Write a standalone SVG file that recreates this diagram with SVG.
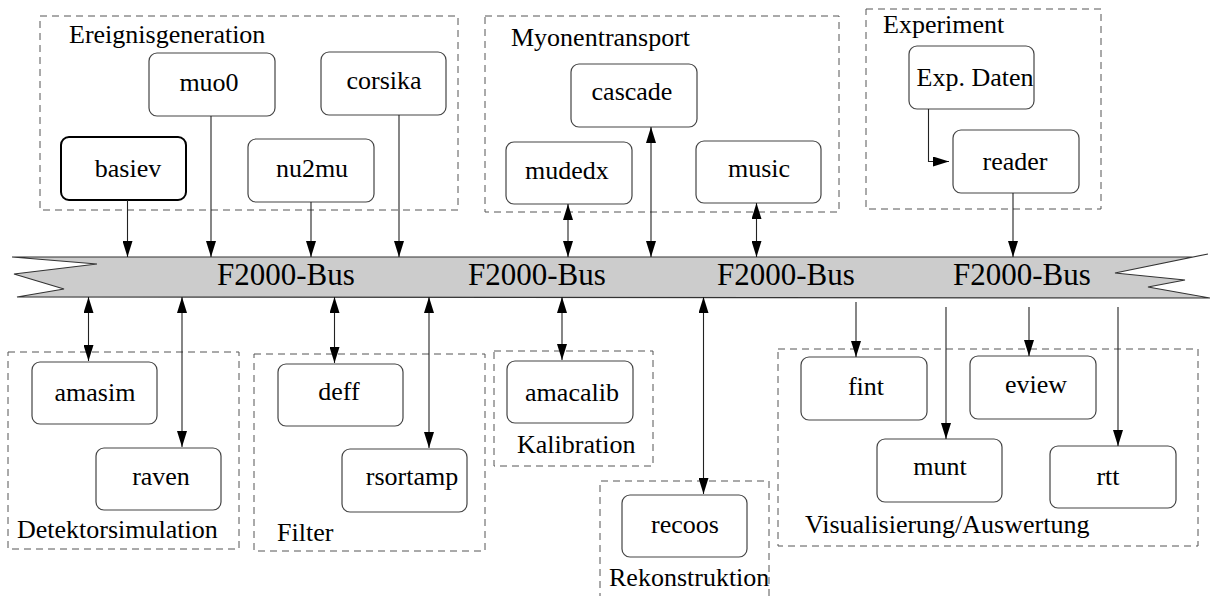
<svg xmlns="http://www.w3.org/2000/svg" width="1210" height="596" viewBox="0 0 1210 596">
  <style>
    text { font-family: "Liberation Serif", "Times New Roman", serif; font-size: 26px; fill: #000; }
    .lbl { text-anchor: start; }
    .nt { text-anchor: middle; }
    .bus-t { font-size: 31px; text-anchor: start; }
    .grp { fill: none; stroke: #555; stroke-width: 1; stroke-dasharray: 7 5; }
    .box { fill: #fff; stroke: #444; stroke-width: 1.2; }
    .box-b { fill: #fff; stroke: #000; stroke-width: 2; }
    .c { fill: none; stroke: #222; stroke-width: 1.1; }
    .one { marker-end: url(#ah); }
    .two { marker-start: url(#ah); marker-end: url(#ah); }
  </style>
  <defs>
    <marker id="ah" viewBox="0 0 16 10" refX="16" refY="5" markerWidth="16" markerHeight="10" markerUnits="userSpaceOnUse" orient="auto-start-reverse">
      <path d="M0,0 L16,5 L0,10 z" fill="#000"/>
    </marker>
  </defs>

  <rect width="1210" height="596" fill="#fff"/>

  <!-- group frames -->
  <g id="groups">
    <g id="grp-ereignis"><rect class="grp" x="40" y="16" width="418" height="194"/><text class="lbl" x="69" y="43">Ereignisgeneration</text></g>
    <g id="grp-myonen"><rect class="grp" x="485" y="16" width="354" height="196"/><text class="lbl" x="511" y="46">Myonentransport</text></g>
    <g id="grp-experiment"><rect class="grp" x="866" y="9" width="235" height="200"/><text class="lbl" x="883" y="33">Experiment</text></g>
    <g id="grp-detektor"><rect class="grp" x="8" y="352" width="231" height="197"/><text class="lbl" x="17" y="538">Detektorsimulation</text></g>
    <g id="grp-filter"><rect class="grp" x="254" y="354" width="231" height="197"/><text class="lbl" x="277" y="541">Filter</text></g>
    <g id="grp-kalib"><rect class="grp" x="494" y="351" width="159" height="115"/><text class="lbl" x="517" y="453">Kalibration</text></g>
    <g id="grp-rekon"><path class="grp" d="M600,600 V481 H769 V600"/><text class="lbl" x="609" y="586">Rekonstruktion</text></g>
    <g id="grp-vis"><rect class="grp" x="778" y="349" width="420" height="197"/><text class="lbl" x="805" y="533">Visualisierung/Auswertung</text></g>
  </g>

  <!-- bus -->
  <g id="bus">
    <polygon points="97,264 12,257 1193,257 1208,254 1115,273 1185,280 1148,287 1210,298 17,297 64,289 14,274" fill="#cccccc" stroke="#333" stroke-width="1.2" stroke-linejoin="miter"/>
    <text class="bus-t" x="217" y="285">F2000-Bus</text>
    <text class="bus-t" x="468" y="285">F2000-Bus</text>
    <text class="bus-t" x="717" y="285">F2000-Bus</text>
    <text class="bus-t" x="953" y="285">F2000-Bus</text>
  </g>

  <!-- nodes -->
  <g id="basiev"><rect class="box-b" x="61" y="137" width="125" height="63" rx="8"/><text class="nt" x="128" y="177">basiev</text></g>
  <g id="muo0"><rect class="box" x="149" y="53" width="126" height="63" rx="8"/><text class="nt" x="209" y="91">muo0</text></g>
  <g id="nu2mu"><rect class="box" x="248" y="139" width="126" height="63" rx="8"/><text class="nt" x="312" y="177">nu2mu</text></g>
  <g id="corsika"><rect class="box" x="321" y="52" width="125" height="63" rx="8"/><text class="nt" x="384" y="89">corsika</text></g>

  <g id="mudedx"><rect class="box" x="506" y="142" width="126" height="62" rx="8"/><text class="nt" x="567" y="179">mudedx</text></g>
  <g id="cascade"><rect class="box" x="571" y="64" width="126" height="63" rx="8"/><text class="nt" x="632" y="100">cascade</text></g>
  <g id="music"><rect class="box" x="696" y="141" width="125" height="62" rx="8"/><text class="nt" x="759" y="177">music</text></g>

  <g id="expdaten"><rect class="box" x="909" y="46" width="125" height="63" rx="8"/><text class="nt" x="975" y="86">Exp. Daten</text></g>
  <g id="reader"><rect class="box" x="953" y="130" width="126" height="63" rx="8"/><text class="nt" x="1015" y="170">reader</text></g>

  <g id="amasim"><rect class="box" x="32" y="362" width="125" height="62" rx="8"/><text class="nt" x="95" y="401">amasim</text></g>
  <g id="raven"><rect class="box" x="96" y="448" width="125" height="62" rx="8"/><text class="nt" x="161" y="485">raven</text></g>
  <g id="deff"><rect class="box" x="278" y="364" width="125" height="62" rx="8"/><text class="nt" x="339" y="400">deff</text></g>
  <g id="rsortamp"><rect class="box" x="342" y="449" width="125" height="63" rx="8"/><text class="nt" x="412" y="485">rsortamp</text></g>
  <g id="amacalib"><rect class="box" x="507" y="361" width="126" height="62" rx="8"/><text class="nt" x="572" y="401">amacalib</text></g>
  <g id="recoos"><rect class="box" x="622" y="495" width="125" height="62" rx="8"/><text class="nt" x="685" y="533">recoos</text></g>

  <g id="fint"><rect class="box" x="801" y="357" width="126" height="63" rx="8"/><text class="nt" x="866" y="395">fint</text></g>
  <g id="eview"><rect class="box" x="970" y="356" width="126" height="63" rx="8"/><text class="nt" x="1036" y="393">eview</text></g>
  <g id="munt"><rect class="box" x="877" y="439" width="125" height="63" rx="8"/><text class="nt" x="940" y="475">munt</text></g>
  <g id="rtt"><rect class="box" x="1050" y="446" width="126" height="62" rx="8"/><text class="nt" x="1108" y="485">rtt</text></g>

  <!-- connectors -->
  <g id="connectors">
    <line class="c one" x1="127.5" y1="200" x2="127.5" y2="257"/>
    <line class="c one" x1="211" y1="116" x2="211" y2="257"/>
    <line class="c one" x1="311" y1="202" x2="311" y2="257"/>
    <line class="c one" x1="399" y1="115" x2="399" y2="257"/>
    <line class="c two" x1="568" y1="204" x2="568" y2="257"/>
    <line class="c two" x1="651" y1="127" x2="651" y2="257"/>
    <line class="c two" x1="756.5" y1="203" x2="756.5" y2="257"/>
    <polyline class="c one" points="928.5,109 928.5,161.5 949,161.5"/>
    <line class="c one" x1="1013" y1="193" x2="1013" y2="257"/>

    <line class="c two" x1="88.5" y1="297" x2="88.5" y2="361"/>
    <line class="c two" x1="182" y1="297" x2="182" y2="447"/>
    <line class="c two" x1="334.5" y1="297" x2="334.5" y2="363"/>
    <line class="c two" x1="429" y1="297" x2="429" y2="448"/>
    <line class="c two" x1="562" y1="297" x2="562" y2="360"/>
    <line class="c two" x1="703.5" y1="297" x2="703.5" y2="494"/>
    <line class="c one" x1="856" y1="302" x2="856" y2="357"/>
    <line class="c one" x1="946" y1="307" x2="946" y2="439"/>
    <line class="c one" x1="1029" y1="307" x2="1029" y2="356"/>
    <line class="c one" x1="1118" y1="307" x2="1118" y2="446"/>
  </g>
</svg>
